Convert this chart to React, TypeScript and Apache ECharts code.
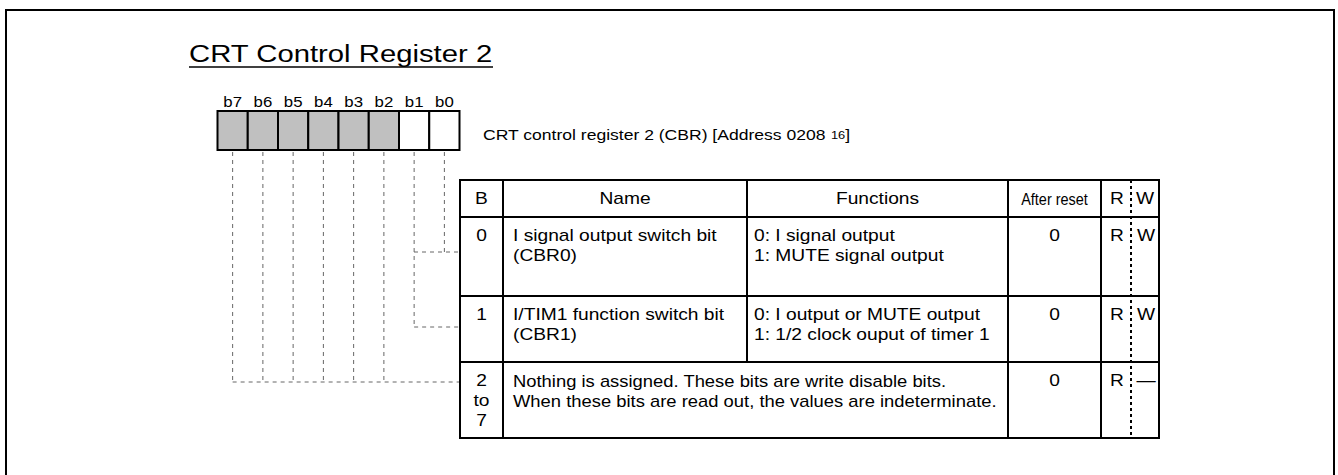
import React, { useEffect, useRef } from "react";
import * as echarts from "echarts";

// ---- content ----
const titleText = "CRT Control Register 2";
const registerCaption = "CRT control register 2 (CBR) [Address 0208 {sub|16}]";
const bitLabels = ["b7", "b6", "b5", "b4", "b3", "b2", "b1", "b0"];
const bitReserved = [true, true, true, true, true, true, false, false];
// which table row each bit's connector leads to (0 = first data row)
const bitTargetRow = [2, 2, 2, 2, 2, 2, 1, 0];
const headerLabels = ["B", "Name", "Functions", "After reset", "R", "W"];
const rowBits = ["0", "1", "2\nto\n7"];
const rowNames = [
  "I signal output switch bit\n(CBR0)",
  "I/TIM1 function switch bit\n(CBR1)",
  "",
];
const rowFunctions = [
  "0: I signal output\n1: MUTE signal output",
  "0: I output or MUTE output\n1: 1/2 clock ouput of timer 1",
  "",
];
const rowMerged = [
  "",
  "",
  "Nothing is assigned. These bits are write disable bits.\nWhen these bits are read out, the values are indeterminate.",
];
const rowReset = ["0", "0", "0"];
const rowRead = ["R", "R", "R"];
const rowWrite = ["W", "W", "—"];

// ---- layout ----
const FONT = '"Liberation Sans", Arial, Helvetica, sans-serif';
const SX = 1.2;
const BOX = { x: 217.5, y: 111, cell: 30.25, h: 39 };
const TABLE = {
  x: 460,
  right: 1159,
  top: 180,
  rowTops: [217, 296, 362],
  bottom: 438,
  cols: [460, 503, 747, 1008, 1101, 1159],
  rwDiv: 1131,
};
const connectorY = [252, 327, 382];
const connectorLeftForRow0 = 414;

function buildElements(): any[] {
  const els: any[] = [];
  const txt = (x: number, y: number, text: string, o: any = {}) => ({
    type: "text",
    x,
    y,
    scaleX: o.scaleX ?? SX,
    style: {
      text,
      fontSize: o.fontSize ?? 16,
      fontFamily: FONT,
      fill: "#000",
      align: o.align ?? "left",
      verticalAlign: o.verticalAlign ?? "middle",
      lineHeight: o.lineHeight ?? 19.5,
      rich: o.rich,
    },
  });
  const line = (x1: number, y1: number, x2: number, y2: number, o: any = {}) => ({
    type: "line",
    shape: { x1, y1, x2, y2 },
    style: {
      stroke: o.stroke ?? "#000",
      lineWidth: o.lineWidth ?? 2,
      lineDash: o.lineDash,
    },
  });

  // outer frame
  els.push({
    type: "rect",
    shape: { x: 6, y: 10, width: 1328, height: 480 },
    style: { fill: "none", stroke: "#000", lineWidth: 2 },
  });

  // title
  els.push(txt(189, 54, titleText, { fontSize: 24, scaleX: 1.22 }));
  els.push(line(189, 67, 493, 67, { lineWidth: 1.5 }));

  // connectors (drawn first, behind)
  const dash = { stroke: "#666", lineWidth: 1, lineDash: [4, 4] };
  bitLabels.forEach((_, i) => {
    const cx = BOX.x + BOX.cell * (i + 0.5);
    const y = connectorY[bitTargetRow[i]];
    els.push(line(cx, BOX.y + BOX.h + 2, cx, y, dash));
  });
  els.push(line(BOX.x + BOX.cell * 0.5, connectorY[2], TABLE.x, connectorY[2], dash));
  els.push(line(BOX.x + BOX.cell * 6.5, connectorY[1], TABLE.x, connectorY[1], dash));
  els.push(line(connectorLeftForRow0, connectorY[0], TABLE.x, connectorY[0], dash));

  // register bits
  bitLabels.forEach((lab, i) => {
    const x = BOX.x + BOX.cell * i;
    els.push({
      type: "rect",
      shape: { x, y: BOX.y, width: BOX.cell, height: BOX.h },
      style: { fill: bitReserved[i] ? "#c0c0c0" : "#fff", stroke: "#000", lineWidth: 2 },
    });
    els.push(txt(x + BOX.cell / 2, 102, lab, { fontSize: 15, scaleX: 1.12, align: "center" }));
  });

  // caption
  els.push(
    txt(483, 134, registerCaption, {
      fontSize: 15,
      scaleX: 1.17,
      rich: { sub: { fontSize: 11, fontFamily: FONT, verticalAlign: "middle", padding: [3, 0, 0, 0] } },
    })
  );

  // table frame
  els.push({
    type: "rect",
    shape: { x: TABLE.x, y: TABLE.top, width: TABLE.right - TABLE.x, height: TABLE.bottom - TABLE.top },
    style: { fill: "#fff", stroke: "#000", lineWidth: 2 },
  });
  TABLE.rowTops.forEach((y) => els.push(line(TABLE.x, y, TABLE.right, y)));
  const c = TABLE.cols;
  els.push(line(c[1], TABLE.top, c[1], TABLE.bottom));
  els.push(line(c[2], TABLE.top, c[2], TABLE.rowTops[2]));
  els.push(line(c[3], TABLE.top, c[3], TABLE.bottom));
  els.push(line(c[4], TABLE.top, c[4], TABLE.bottom));
  els.push(line(TABLE.rwDiv, TABLE.top, TABLE.rwDiv, TABLE.bottom, { lineDash: [3, 3] }));

  // header
  const headY = (TABLE.top + TABLE.rowTops[0]) / 2 + 0.5;
  const centers = [
    (c[0] + c[1]) / 2,
    (c[1] + c[2]) / 2,
    (c[2] + c[3]) / 2,
    (c[3] + c[4]) / 2,
    (c[4] + TABLE.rwDiv) / 2 + 1,
    (TABLE.rwDiv + c[5]) / 2,
  ];
  headerLabels.forEach((h, i) => {
    if (i === 3) {
      els.push(txt(centers[i], headY, h, { fontSize: 17, scaleX: 0.85, align: "center" }));
    } else {
      els.push(txt(centers[i], headY, h, { align: "center" }));
    }
  });

  // rows
  TABLE.rowTops.forEach((top, r) => {
    const ty = top + 9;
    const o = { verticalAlign: "top", lineHeight: 20 };
    els.push(txt(centers[0], ty, rowBits[r], { ...o, align: "center" }));
    if (rowNames[r]) els.push(txt(c[1] + 10, ty, rowNames[r], o));
    if (rowFunctions[r]) els.push(txt(c[2] + 7, ty, rowFunctions[r], o));
    if (rowMerged[r]) els.push(txt(c[1] + 10, ty, rowMerged[r], { ...o, scaleX: 1.15 }));
    els.push(txt(centers[3], ty, rowReset[r], { ...o, align: "center" }));
    els.push(txt(centers[4], ty, rowRead[r], { ...o, align: "center" }));
    els.push(txt(centers[5] + 1, ty, rowWrite[r], { ...o, align: "center" }));
  });

  return els;
}

export default function App() {
  const ref = useRef<HTMLDivElement>(null);
  useEffect(() => {
    document.body.style.margin = "0";
    const chart = echarts.init(ref.current!, null, { renderer: "svg" });
    chart.setOption({
      animation: false,
      backgroundColor: "#fff",
      graphic: { elements: buildElements() },
    });
    return () => chart.dispose();
  }, []);
  return (
    <div
      ref={ref}
      style={{ position: "absolute", left: 0, top: 0, width: 1338, height: 475, background: "#fff" }}
    />
  );
}
